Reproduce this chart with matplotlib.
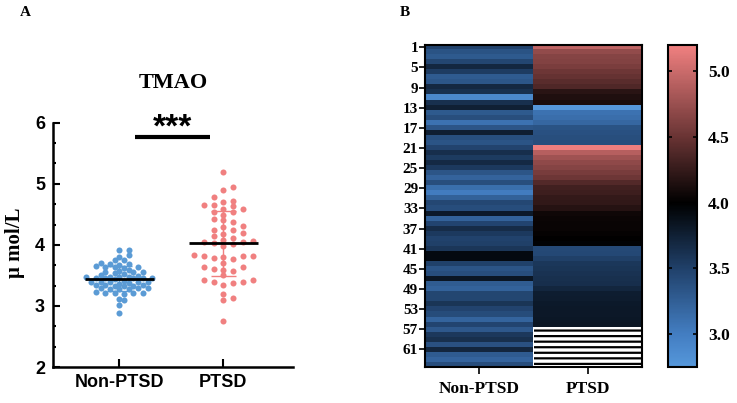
import numpy as np
import matplotlib
matplotlib.use("Agg")
import matplotlib.pyplot as plt
from matplotlib.colors import LinearSegmentedColormap, Normalize
from matplotlib.patches import Rectangle
from matplotlib.ticker import MultipleLocator

# ---- data (values in heatmap row order) ----
groups = ["Non-PTSD", "PTSD"]
non_ptsd = [3.48, 3.35, 3.29, 3.45, 3.69, 3.53, 3.28, 3.32, 3.68, 3.62,
            2.89, 3.63, 3.75, 3.29, 3.39, 3.09, 3.33, 3.76, 3.38, 3.34,
            3.47, 3.64, 3.54, 3.67, 3.55, 3.33, 3.21, 3.39, 3.12, 3.01,
            3.23, 3.44, 3.40, 3.80, 3.22, 3.46, 3.65, 3.55, 3.48, 3.50,
            3.58, 3.92, 3.92, 3.49, 3.34, 3.39, 3.83, 3.27, 3.22, 3.45,
            3.45, 3.59, 3.47, 3.41, 3.20, 3.46, 3.30, 3.56, 3.63, 3.36,
            3.70, 3.28, 3.21, 3.40]
ptsd = [4.95, 4.72, 4.65, 4.63, 4.59, 4.53, 4.49, 4.43, 4.38, 4.20, 4.15, 4.12,
        2.75, 3.09, 3.13, 3.19, 3.35, 3.37, 3.39, 3.40,
        5.19, 4.90, 4.78, 4.70, 4.65, 4.58, 4.53, 4.40, 4.31, 4.30,
        4.25, 4.24, 4.18, 4.08, 4.06, 4.05, 4.05, 4.03, 4.01, 3.98,
        3.42, 3.43, 3.50, 3.57, 3.59, 3.61, 3.63, 3.64, 3.70, 3.77,
        3.78, 3.80, 3.81, 3.81, 3.82, 3.83]
row_ticks = list(range(1, 65, 4))
cbar_ticks = [3.0, 3.5, 4.0, 4.5, 5.0]

blue = "#5b9bd5"
pink = "#f08080"
sans = "Liberation Sans"
serif = "Liberation Serif"
plt.rcParams["hatch.linewidth"] = 1.6

# approx pixels per data unit in panel A
PX_X, PX_Y = 104.0, 61.2


def swarm(vals, step_px, min_px):
    # column beeswarm: each point goes to the nearest column where it doesn't touch others
    vals = np.asarray(vals)
    offs = np.zeros(len(vals))
    placed = []
    cols = [0]
    for j in range(1, 30):
        cols += [j, -j]
    for i in np.argsort(vals):
        y = vals[i] * PX_Y
        for c in cols:
            x = c * step_px
            if all((x - px) ** 2 + (y - py) ** 2 >= min_px ** 2 for px, py in placed):
                break
        placed.append((x, y))
        offs[i] = x / PX_X
    return offs


fig = plt.figure(figsize=(7.37, 4.03), dpi=100)

# ================= A: scatter =================
ax = fig.add_axes([0.0723, 0.0893, 0.3253, 0.6062])
for k, (vals, col, step, gap) in enumerate([(non_ptsd, blue, 4.7, 5.0),
                                            (ptsd, pink, 9.8, 5.3)]):
    vals = np.asarray(vals)
    xs = k + swarm(vals, step, gap)
    ax.scatter(xs, vals, s=19, color=col, linewidths=0, zorder=2)
    m, sd = vals.mean(), vals.std(ddof=1)
    ax.errorbar(k, m, yerr=sd, color=col, lw=1, capsize=9, capthick=1, zorder=3)
    ax.plot([k - 0.33, k + 0.33], [m, m], color="black", lw=2, zorder=4,
            solid_capstyle="butt")

ax.set_xlim(-0.635, 1.67)
ax.set_ylim(2, 6)
ax.set_yticks([2, 3, 4, 5, 6])
ax.yaxis.set_minor_locator(MultipleLocator(1 / 3))
ax.set_xticks([0, 1])
ax.set_xticklabels(groups)
for s in ["top", "right"]:
    ax.spines[s].set_visible(False)
for s in ["left", "bottom"]:
    ax.spines[s].set_linewidth(1.8)
ax.tick_params(axis="y", which="major", direction="in", length=5, width=1.5, pad=6)
ax.tick_params(axis="y", which="minor", direction="in", length=2.5, width=1.5)
ax.tick_params(axis="x", direction="in", length=6, width=1.5, pad=5)
for lab in ax.get_yticklabels() + ax.get_xticklabels():
    lab.set_fontfamily(sans)
    lab.set_fontweight("bold")
    lab.set_fontsize(13)

ax.plot([0.15, 0.87], [5.76, 5.76], color="black", lw=3, clip_on=False,
        solid_capstyle="butt")
ax.text(0.51, 5.91, "***", ha="center", va="center", fontsize=24,
        fontweight="bold", family=sans, clip_on=False)

fig.text(173 / 737, 1 - 83 / 403, "TMAO", ha="center", va="center",
         fontsize=16, fontweight="bold", family=serif)
fig.text(15 / 737, 1 - 243 / 403, "μ mol/L", ha="center", va="center",
         rotation=90, fontsize=15, fontweight="bold", family=serif)
fig.text(25 / 737, 1 - 13 / 403, "A", ha="center", va="center",
         fontsize=11, fontweight="bold", family=serif)
fig.text(405 / 737, 1 - 13 / 403, "B", ha="center", va="center",
         fontsize=11, fontweight="bold", family=serif)

# ================= B: heatmap =================
cmap = LinearSegmentedColormap.from_list(
    "bk", [(0.0, "#5597da"), (0.1, "#437ec2"), (0.3, "#21426c"),
           (0.51, "#000000"), (0.72, "#6b3535"), (1.0, "#f08080")])
norm = Normalize(vmin=2.75, vmax=5.2)

n_rows = len(non_ptsd)
grid = np.full((n_rows, 2), np.nan)
grid[:, 0] = non_ptsd
grid[:len(ptsd), 1] = ptsd

hx = fig.add_axes([425 / 737, 1 - 367 / 403, 217 / 737, 322.3 / 403])
im = hx.imshow(grid, aspect="auto", cmap=cmap, norm=norm,
               interpolation="nearest", extent=(-0.5, 1.5, n_rows - 0.5, -0.5))
# missing values
miss = np.where(np.isnan(grid[:, 1]))[0]
if len(miss):
    hx.add_patch(Rectangle((0.5, miss[0] - 0.5), 1, len(miss), facecolor="white",
                           edgecolor="black", hatch="---", lw=0, zorder=0.5))
hx.set_xticks([0, 1])
hx.set_xticklabels(groups)
hx.set_yticks([r - 1 for r in row_ticks])
hx.set_yticklabels([str(r) for r in row_ticks])
hx.tick_params(axis="y", direction="out", length=4, width=1.2, pad=1)
hx.tick_params(axis="x", direction="out", length=5, width=1.2, pad=5)
for s in hx.spines.values():
    s.set_linewidth(1.5)
for lab in hx.get_yticklabels():
    lab.set_fontfamily(serif)
    lab.set_fontweight("bold")
    lab.set_fontsize(11)
for lab in hx.get_xticklabels():
    lab.set_fontfamily(serif)
    lab.set_fontweight("bold")
    lab.set_fontsize(12.5)

cax = fig.add_axes([668 / 737, 1 - 367 / 403, 29 / 737, 322 / 403])
cb = fig.colorbar(im, cax=cax, ticks=cbar_ticks)
cb.outline.set_linewidth(1.5)
cax.tick_params(direction="in", left=True, right=True, length=3, width=1.2, pad=8)
cax.set_yticklabels([f"{t:.1f}" for t in cbar_ticks])
for lab in cax.get_yticklabels():
    lab.set_fontfamily(serif)
    lab.set_fontweight("bold")
    lab.set_fontsize(12.5)

fig.savefig("out.png", dpi=100)
